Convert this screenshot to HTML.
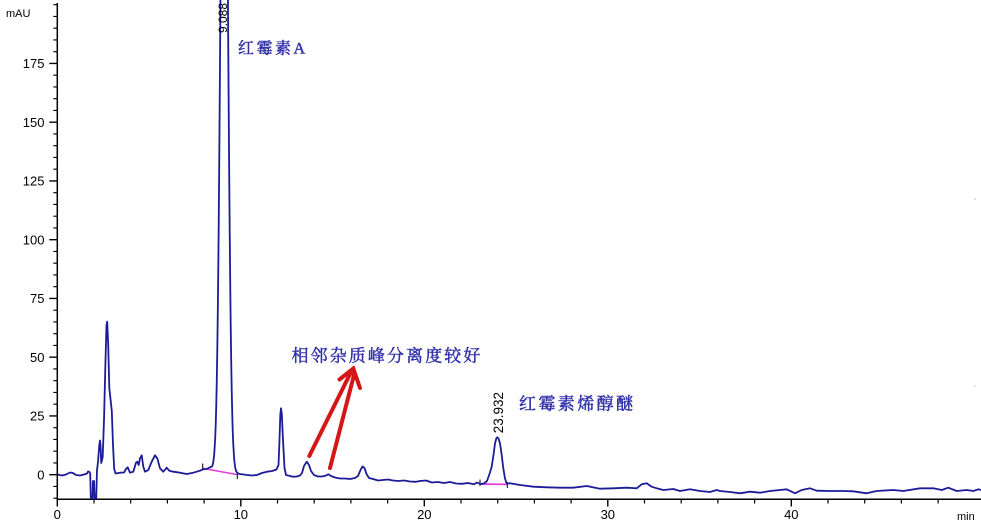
<!DOCTYPE html>
<html><head><meta charset="utf-8"><style>
html,body{margin:0;padding:0;background:#fff;}
body{width:981px;height:523px;overflow:hidden;}
svg{display:block;}
.ax{font-family:"Liberation Sans",Arial,sans-serif;font-size:13px;fill:#000;}
.cn{font-family:"Liberation Serif","Noto Serif CJK SC",serif;fill:#3030a8;stroke:#3030a8;stroke-width:0.45px;}
</style></head><body>
<svg width="981" height="523" viewBox="0 0 981 523" xmlns="http://www.w3.org/2000/svg">
<defs><clipPath id="pc"><rect x="57.3" y="0" width="924" height="499.3"/></clipPath></defs>

<!-- axes -->
<path d="M57.3 3 V499.3 H981" fill="none" stroke="#000" stroke-width="1.5"/>
<path d="M49.3 474.7H57.3M49.3 415.95H57.3M49.3 357.2H57.3M49.3 298.45H57.3M49.3 239.7H57.3M49.3 180.95H57.3M49.3 122.2H57.3M49.3 63.45H57.3" stroke="#000" stroke-width="1.4"/>
<path d="M53.3 498.2H57.3M53.3 486.45H57.3M53.3 462.95H57.3M53.3 451.2H57.3M53.3 439.45H57.3M53.3 427.7H57.3M53.3 404.2H57.3M53.3 392.45H57.3M53.3 380.7H57.3M53.3 368.95H57.3M53.3 345.45H57.3M53.3 333.7H57.3M53.3 321.95H57.3M53.3 310.2H57.3M53.3 286.7H57.3M53.3 274.95H57.3M53.3 263.2H57.3M53.3 251.45H57.3M53.3 227.95H57.3M53.3 216.2H57.3M53.3 204.45H57.3M53.3 192.7H57.3M53.3 169.2H57.3M53.3 157.45H57.3M53.3 145.7H57.3M53.3 133.95H57.3M53.3 110.45H57.3M53.3 98.7H57.3M53.3 86.95H57.3M53.3 75.2H57.3M53.3 51.7H57.3M53.3 39.95H57.3M53.3 28.2H57.3M53.3 16.45H57.3M53.3 4.7H57.3" stroke="#000" stroke-width="1.2"/>
<path d="M57.3 499V506.5M240.8 499V506.5M424.3 499V506.5M607.8 499V506.5M791.3 499V506.5" stroke="#000" stroke-width="1.4"/>
<path d="M94 499V503.5M130.7 499V503.5M167.4 499V503.5M204.1 499V503.5M277.5 499V503.5M314.2 499V503.5M350.9 499V503.5M387.6 499V503.5M461 499V503.5M497.7 499V503.5M534.4 499V503.5M571.1 499V503.5M644.5 499V503.5M681.2 499V503.5M717.9 499V503.5M754.6 499V503.5M828 499V503.5M864.7 499V503.5M901.4 499V503.5M938.1 499V503.5" stroke="#000" stroke-width="1.2"/>

<text x="6" y="17" class="ax" style="font-size:11px">mAU</text>
<g class="ax" text-anchor="end">
<text x="44.5" y="479.3">0</text>
<text x="44.5" y="420.6">25</text>
<text x="44.5" y="361.8">50</text>
<text x="44.5" y="303.1">75</text>
<text x="44.5" y="244.3">100</text>
<text x="44.5" y="185.6">125</text>
<text x="44.5" y="126.8">150</text>
<text x="44.5" y="68.1">175</text>
</g>
<g class="ax" text-anchor="middle">
<text x="57.3" y="519">0</text>
<text x="240.8" y="519">10</text>
<text x="424.3" y="519">20</text>
<text x="607.8" y="519">30</text>
<text x="791.3" y="519">40</text>
</g>
<text x="957" y="520" class="ax" style="font-size:11px">min</text>

<path d="M202.7 468.3 L237.3 474.6" stroke="#e040d8" stroke-width="1.6" fill="none"/>
<path d="M480 484 L506.7 484.4" stroke="#e040d8" stroke-width="1.8" fill="none"/>
<path d="M202.7 463.5V470M237.3 473.5V479M480 479.5V486M507.3 482V488" stroke="#000" stroke-width="1"/>

<g clip-path="url(#pc)">
<polyline fill="none" stroke="#1c1c98" stroke-width="1.8" stroke-linejoin="round" points="
57.3,474.5 62,475.5 66,474.5 70,472.5 73,473 76,475 80,475.5 84,474.5 87,473.5 88,471.5 89.5,472 90.2,473.5
91,506 92.3,506 93,481 94,481 94.8,506 96,506 97,470 98,462 99.3,445 100,440.5 100.6,446 101.2,463 102,460
102.7,456.7 104,420 105.5,360 106.5,325 107.2,321.7 108.2,345 109.3,388 110.5,399 111.8,411 113,445 114.2,469 115.5,473.5
120,472.7 124,472.5 126,469 127.7,467.3 130,472.7 133.3,471.7 136,462.7 137.3,461.7 138.7,465 140,458.3 141.7,455.3 143.3,466.7 145,471.7
148.3,470 151.7,461.7 155,455.3 157.3,458.3 160,468.3 163.3,471.7 166.7,467.7 169.3,470.7 173.3,471.7 180,472.7 186.7,474 193.3,472.7
200,470.7 203,469.3 206.7,469 209.5,467.5 212.2,466.4
213.2,462.7 214.2,454.6 215.2,438 215.7,425 216.2,407.4 216.7,384.7 217.2,355.9 217.7,320 218.2,276.7 218.7,226 219.2,168 219.7,103.5 220.2,34.4 220.7,-37 222,-200
226.4,-200 227.7,-32 228.2,39.4 228.7,108.5 229.2,173 229.7,231 230.2,281.7 230.7,325 231.2,360.9 231.7,389.7 232.2,412.4 232.7,430 233.2,443 234.2,459.6 235.2,467.7 236.2,471.4
238,473.5 240,474 247,475 252,475.5 257,475 262,473 267,471.7 272,471 276.5,469.5 278.5,465 279.5,440 280.3,415 281,408.3 281.8,414 283,440 284.5,468 286,475
290,476 293,476.7 297,476.5 300,475.5 302,473 304,466 306.7,461.7 309,465 311,471 314,475 318,476.5 322,476.5 326,475.5 328.3,474.3 331,476
335,477.5 340,478.5 345,478.5 350,479 355,478 358,476 360.5,470 362.5,466.5 364.5,468 366.5,474 369,478 373,479 378,480.5 383,480 388,479.5
393,480.5 398,481 404,480.5 410,481.5 416,481.8 420,481 426,480.5 432,482.5 438,482 444,483 450,482 456,483.5 462,483.8 468,483 474,484.3 477,482.5 480,484
484,483.5 487,481 489.5,474 491.7,466.7 493.5,455 495,443.5 496.3,438.5 497.3,437.3 498.5,438.5 500,443.3 501.7,455 503.3,468.3 505,478.5 506.7,483.5
510,483.3 520,485 533.3,486.7 546.7,487.3 560,487.7 573.3,487.7 586.7,486 600,488.7 613.3,488.3 626.7,487.7 636.7,488.3 641.7,484.3 646.7,483.3 651.7,486.7 656.7,488.3
663.3,490 673.3,489 680,491 690,489.3 700,491 710,492 716.7,490 720,491 730,492 740,493.3 750,491.7 760,492.7 770,491 780,490 786.7,489.3 795,493.3 801.7,490
810,488.3 816.7,490.7 830,491 843.3,491 853.3,491.3 866.7,493.3 876.7,491 893.3,490 903.3,491 920,488.3 933.3,488.3 941.7,490 948.3,487.7 956.7,491 966.7,490 973.3,491 978.3,489.3 981,490"/>
</g>

<text class="ax" style="font-size:12px" transform="translate(227,33) rotate(-90)">9.088</text>
<text class="ax" style="font-size:13.5px" transform="translate(503.2,433.3) rotate(-90)">23.932</text>

<text class="cn" x="238" y="53.5" style="font-size:16px;letter-spacing:2.5px">红霉素A</text>
<text class="cn" x="291.5" y="361.5" style="font-size:17px;letter-spacing:2.1px">相邻杂质峰分离度较好</text>
<text class="cn" x="519" y="409.5" style="font-size:17px;letter-spacing:2.4px">红霉素烯醇醚</text>

<g stroke="#d41616" stroke-width="4" stroke-linecap="round" fill="none">
<line x1="309.3" y1="456" x2="351" y2="372"/>
<line x1="330" y1="468" x2="354.5" y2="373"/>
<polyline points="339.5,379.5 353.3,368.5 360,388"/>
</g>

<rect x="974.5" y="198.5" width="1" height="1" fill="#888"/>
<rect x="974.5" y="385.5" width="1" height="1" fill="#888"/>
</svg>
</body></html>
